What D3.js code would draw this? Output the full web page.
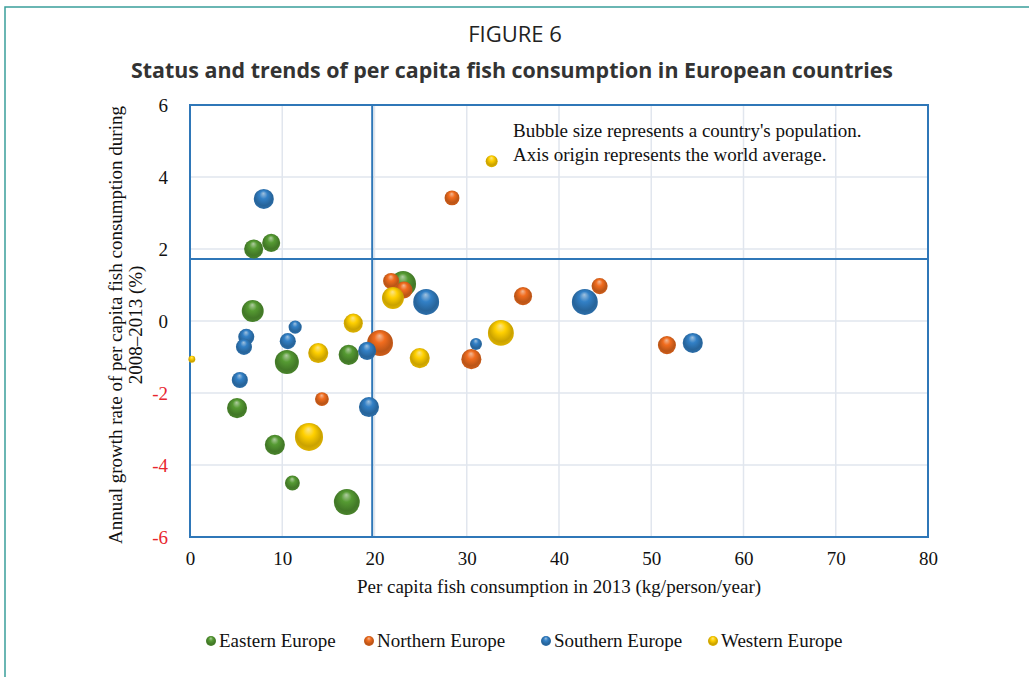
<!DOCTYPE html>
<html>
<head>
<meta charset="utf-8">
<script src="https://cdn.jsdelivr.net/npm/d3@7"></script>
<style>
  body { margin: 0; background: #fff; }
  svg { display: block; }
</style>
</head>
<body>
<svg width="1029" height="677"></svg>
<script>
// regions, in drawing order
const regions = ["Eastern Europe", "Northern Europe", "Southern Europe", "Western Europe"];
const colors = ["#4f8f2f", "#e0651c", "#2f77b8", "#f2c200"];

// per capita consumption 2013 (kg), growth 2008-2013 (%), population (approx, millions)
const easternCons = [6.9, 8.8, 6.8, 5.1, 10.5, 9.2, 11.1, 17.0, 17.2, 23.1];
const easternGrowth = [2.0, 2.17, 0.28, -2.42, -1.14, -3.44, -4.5, -5.03, -0.94, 1.03];
const easternPop = [38, 34, 50, 42, 60, 42, 23, 70, 42, 70];

const northernCons = [28.4, 21.8, 23.2, 20.6, 14.3, 30.5, 36.1, 44.4, 51.7];
const northernGrowth = [3.42, 1.11, 0.86, -0.61, -2.17, -1.06, 0.69, 0.97, -0.67];
const northernPop = [23, 27, 30, 70, 20, 42, 34, 27, 34];

const southernCons = [8.0, 6.1, 5.85, 11.4, 10.6, 5.4, 19.2, 19.4, 25.6, 31.0, 42.8, 54.5];
const southernGrowth = [3.39, -0.44, -0.72, -0.17, -0.56, -1.64, -0.83, -2.39, 0.53, -0.64, 0.53, -0.61];
const southernPop = [42, 27, 27, 18, 27, 27, 34, 42, 70, 15, 70, 42];

const westernCons = [32.7, 0.2, 17.7, 13.9, 12.9, 22.0, 24.9, 33.7];
const westernGrowth = [4.44, -1.06, -0.06, -0.89, -3.22, 0.64, -1.03, -0.33];
const westernPop = [15, 5, 38, 42, 82, 50, 42, 70];

const seriesCons = [easternCons, northernCons, southernCons, westernCons];
const seriesGrowth = [easternGrowth, northernGrowth, southernGrowth, westernGrowth];
const seriesPop = [easternPop, northernPop, southernPop, westernPop];

// world average (axis origin)
const worldCons = 19.75;
const worldGrowth = 1.72;

const xTicks = [0, 10, 20, 30, 40, 50, 60, 70, 80];
const yTicks = [6, 4, 2, 0, -2, -4, -6];

const svg = d3.select("svg");

// page frame
svg.append("path")
    .attr("d", "M5,677 L5,7 L1029,7")
    .attr("fill", "none")
    .attr("stroke", "#3a9f9b")
    .attr("stroke-width", 1.5);

// titles
svg.append("text")
    .attr("x", 515).attr("y", 42)
    .attr("text-anchor", "middle")
    .style("font-family", "'Open Sans', sans-serif")
    .style("font-size", "22px")
    .attr("fill", "#222")
    .text("FIGURE 6");

svg.append("text")
    .attr("x", 512).attr("y", 78)
    .attr("text-anchor", "middle")
    .attr("textLength", 762)
    .attr("lengthAdjust", "spacingAndGlyphs")
    .style("font-family", "'Open Sans', sans-serif")
    .style("font-size", "22px")
    .style("font-weight", "bold")
    .attr("fill", "#333")
    .text("Status and trends of per capita fish consumption in European countries");

const plotL = 190, plotR = 928, plotT = 105, plotB = 537;

const x = d3.scaleLinear().domain([0, 80]).range([plotL, plotR]);
const y = d3.scaleLinear().domain([-6, 6]).range([plotB, plotT]);
const r = d3.scaleSqrt().domain([0, 100]).range([0, 15.5]);

// gridlines
svg.append("g")
    .selectAll("line")
    .data(xTicks.filter(d => d > 0 && d < 80))
    .join("line")
    .attr("x1", d => x(d)).attr("x2", d => x(d))
    .attr("y1", plotT).attr("y2", plotB)
    .attr("stroke", "#e1e6ee").attr("stroke-width", 1.5);

svg.append("g")
    .selectAll("line")
    .data(yTicks.filter(d => d > -6 && d < 6))
    .join("line")
    .attr("x1", plotL).attr("x2", plotR)
    .attr("y1", d => y(d)).attr("y2", d => y(d))
    .attr("stroke", "#e1e6ee").attr("stroke-width", 1.5);

// axes
const serif = "'Liberation Serif', 'Times New Roman', serif";

const yAxis = svg.append("g")
    .attr("transform", `translate(${plotL - 22},0)`)
    .call(d3.axisLeft(y).tickValues(yTicks).tickSize(0).tickPadding(0).tickFormat(d => String(d)));
yAxis.select(".domain").remove();
yAxis.selectAll("text")
    .style("font-family", serif)
    .style("font-size", "19px")
    .attr("fill", d => d < 0 ? "#e8262e" : "#111");

const xAxis = svg.append("g")
    .attr("transform", `translate(0,${plotB + 14})`)
    .call(d3.axisBottom(x).tickValues(xTicks).tickSize(0).tickPadding(0));
xAxis.select(".domain").remove();
xAxis.selectAll("text")
    .style("font-family", serif)
    .style("font-size", "19px")
    .attr("fill", "#111");

// axis titles
svg.append("text")
    .attr("x", 559).attr("y", 593)
    .attr("text-anchor", "middle")
    .style("font-family", serif).style("font-size", "19px")
    .attr("fill", "#111")
    .text("Per capita fish consumption in 2013 (kg/person/year)");

const yTitle = svg.append("text")
    .attr("transform", "translate(122,325) rotate(-90)")
    .attr("text-anchor", "middle")
    .style("font-family", serif).style("font-size", "19px")
    .attr("fill", "#111");
yTitle.append("tspan").attr("x", 0).attr("dy", 0)
    .text("Annual growth rate of per capita fish consumption during");
yTitle.append("tspan").attr("x", 0).attr("dy", 20)
    .text("2008\u20132013  (%)");

// plot frame and crosshair at world average
svg.append("rect")
    .attr("x", plotL).attr("y", plotT)
    .attr("width", plotR - plotL).attr("height", plotB - plotT)
    .attr("fill", "none")
    .attr("stroke", "#2f77b8").attr("stroke-width", 2);

svg.append("line")
    .attr("x1", x(worldCons)).attr("x2", x(worldCons))
    .attr("y1", plotT).attr("y2", plotB)
    .attr("stroke", "#2f77b8").attr("stroke-width", 2);

svg.append("line")
    .attr("x1", plotL).attr("x2", plotR)
    .attr("y1", y(worldGrowth)).attr("y2", y(worldGrowth))
    .attr("stroke", "#2f77b8").attr("stroke-width", 2);

// sphere gradients
const defs = svg.append("defs");
colors.forEach((c, i) => {
    const g = defs.append("radialGradient")
        .attr("id", "ball" + i)
        .attr("cx", "50%").attr("cy", "45%").attr("r", "58%")
        .attr("fx", "48%").attr("fy", "22%");
    const base = d3.color(c);
    g.append("stop").attr("offset", "0%").attr("stop-color", d3.interpolateRgb(c, "#fff")(0.55));
    g.append("stop").attr("offset", "35%").attr("stop-color", base.brighter(0.2));
    g.append("stop").attr("offset", "75%").attr("stop-color", base.darker(0.5));
    g.append("stop").attr("offset", "100%").attr("stop-color", base.darker(0.2));
});

// bubbles
regions.forEach((name, i) => {
    const pts = seriesCons[i].map((v, j) => ({ cons: v, growth: seriesGrowth[i][j], pop: seriesPop[i][j] }));
    svg.append("g")
        .selectAll("circle")
        .data(pts)
        .join("circle")
        .attr("cx", d => x(d.cons))
        .attr("cy", d => y(d.growth))
        .attr("r", d => r(d.pop))
        .attr("fill", `url(#ball${i})`);
});

// note
const note = svg.append("text")
    .style("font-family", serif).style("font-size", "19px")
    .attr("fill", "#111");
note.append("tspan").attr("x", 513).attr("y", 137).text("Bubble size represents a country's population.");
note.append("tspan").attr("x", 513).attr("y", 161).text("Axis origin represents the world average.");

// legend
const legendX = [211, 369, 546, 713];
const legend = svg.append("g");
regions.forEach((name, i) => {
    legend.append("circle")
        .attr("cx", legendX[i]).attr("cy", 641).attr("r", 5)
        .attr("fill", `url(#ball${i})`);
    legend.append("text")
        .attr("x", legendX[i] + 8).attr("y", 647)
        .style("font-family", serif).style("font-size", "19px")
        .attr("fill", "#111")
        .text(name);
});
</script>
</body>
</html>
